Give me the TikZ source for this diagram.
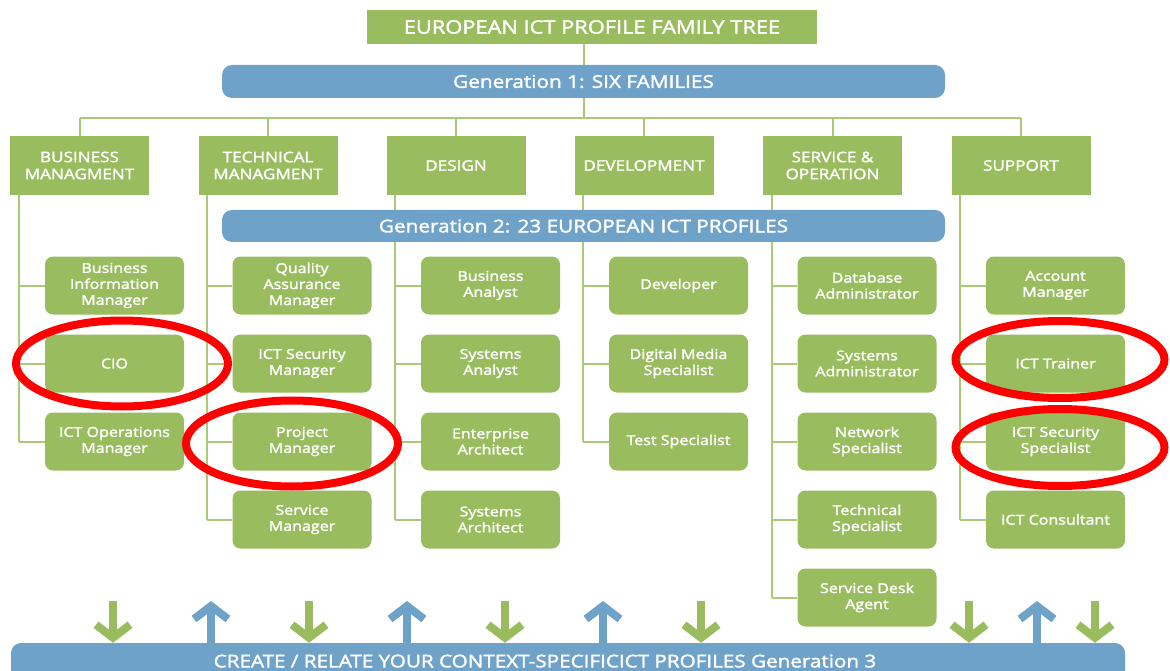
\documentclass[tikz,border=0pt]{standalone}
\usepackage{fontspec}
\setmainfont{Open Sans}[FakeStretch=1.18, FakeBold=2]
\usetikzlibrary{arrows.meta,calc,backgrounds}
\definecolor{gr}{RGB}{152,188,94}
\definecolor{lg}{RGB}{170,202,120}
\definecolor{bl}{RGB}{110,162,200}
\definecolor{rd}{RGB}{255,0,0}
\begin{document}
\begin{tikzpicture}[x=1pt,y=-1pt,
  titleb/.style={fill=gr, text=white, minimum width=450pt, minimum height=34pt, inner sep=0pt, font=\fontsize{18.5}{20}\selectfont},
  genb/.style={fill=bl, rounded corners=10pt, text=white, minimum width=723pt, minimum height=33pt, inner sep=0pt, font=\fontsize{17.6}{20}\selectfont},
  famb/.style={fill=gr, text=white, minimum width=139pt, minimum height=59pt, inner sep=0pt, align=center, font=\fontsize{14.5}{17}\selectfont},
  roleb/.style={fill=gr, rounded corners=8pt, text=white, minimum width=139pt, minimum height=58pt, inner sep=0pt, align=center, font=\fontsize{13.6}{16}\selectfont},
  conn/.style={draw=lg, line width=2pt},
  garr/.style={draw=gr, line width=8pt, -{Straight Barb[length=13pt, width=34pt]}},
  barr/.style={draw=bl, line width=8pt, -{Straight Barb[length=13pt, width=34pt]}},
  ring/.style={draw=rd, line width=8pt}
]
\clip (0,0) rectangle (1170,671);
% title and generation bars
\node[titleb] (t) at (592,27) {EUROPEAN ICT PROFILE FAMILY TREE};
\node[genb] (g1) at (583.5,81.5) {Generation 1: SIX FAMILIES};
\node[genb, minimum height=32pt] (g2) at (583.5,226) {Generation 2: 23 EUROPEAN ICT PROFILES};
% families
\node[famb] (f1) at (79.5,165.5) {BUSINESS\\MANAGMENT};
\node[famb] (f2) at (268,165.5) {TECHNICAL\\MANAGMENT};
\node[famb] (f3) at (456,165.5) {DESIGN};
\node[famb] (f4) at (644,165.5) {DEVELOPMENT};
\node[famb] (f5) at (832.5,165.5) {SERVICE \&\\OPERATION};
\node[famb] (f6) at (1021,165.5) {SUPPORT};
% roles column 1
\node[roleb] (r11) at (114.5,285.5) {Business\\Information\\Manager};
\node[roleb] (r12) at (114.5,363.5) {CIO};
\node[roleb] (r13) at (114.5,441.5) {ICT Operations\\Manager};
% column 2
\node[roleb] (r21) at (302,285.5) {Quality\\Assurance\\Manager};
\node[roleb] (r22) at (302,363.5) {ICT Security\\Manager};
\node[roleb] (r23) at (302,441.5) {Project\\Manager};
\node[roleb] (r24) at (302,519.5) {Service\\Manager};
% column 3
\node[roleb] (r31) at (490.5,285.5) {Business\\Analyst};
\node[roleb] (r32) at (490.5,363.5) {Systems\\Analyst};
\node[roleb] (r33) at (490.5,441.5) {Enterprise\\Architect};
\node[roleb] (r34) at (490.5,519.5) {Systems\\Architect};
% column 4
\node[roleb] (r41) at (678.5,285.5) {Developer};
\node[roleb] (r42) at (678.5,363.5) {Digital Media\\Specialist};
\node[roleb] (r43) at (678.5,441.5) {Test Specialist};
% column 5
\node[roleb] (r51) at (867,285.5) {Database\\Administrator};
\node[roleb] (r52) at (867,363.5) {Systems\\Administrator};
\node[roleb] (r53) at (867,441.5) {Network\\Specialist};
\node[roleb] (r54) at (867,519.5) {Technical\\Specialist};
\node[roleb] (r55) at (867,597.5) {Service Desk\\Agent};
% column 6
\node[roleb] (r61) at (1055.5,285.5) {Account\\Manager};
\node[roleb] (r62) at (1055.5,363.5) {ICT Trainer};
\node[roleb] (r63) at (1055.5,441.5) {ICT Security\\Specialist};
\node[roleb] (r64) at (1055.5,519.5) {ICT Consultant};
% bottom bar
\node[fill=bl, rounded corners=10pt, minimum width=1114pt, minimum height=56pt, inner sep=0pt] (bb) at (568,671) {};
\node[text=white, inner sep=0pt, font=\fontsize{17.5}{20}\selectfont] (bbt) at (545,661) {CREATE / RELATE YOUR CONTEXT-SPECIFICICT PROFILES Generation 3};
% connectors
\begin{pgfonlayer}{background}
\coordinate (hy) at (0,118);
\draw[conn] (g1.north) -- (g1.north |- t.south);
\draw[conn] (g1.south) -- (g1.south |- hy);
\draw[conn] (f1.north |- hy) -- (f6.north |- hy);
\foreach \f in {f1,f2,f3,f4,f5,f6} { \draw[conn] (\f.north) -- (\f.north |- hy); }
\foreach \c/\last/\rows in {1/3/{1,2,3},2/4/{1,2,3,4},3/4/{1,2,3,4},4/3/{1,2,3},5/5/{1,2,3,4,5},6/4/{1,2,3,4}} {
  \coordinate (d\c) at ($(f\c.south west)+(9,0)$);
  \draw[conn] (d\c) -- (d\c |- r\c\last.west);
  \foreach \r in \rows { \draw[conn] (d\c |- r\c\r.west) -- (r\c\r.west); }
}
\end{pgfonlayer}
% arrows
\foreach \i/\x in {1/113,2/309,3/505,4/701,5/969,6/1095} {
  \coordinate (ga\i) at (\x,601);
  \draw[garr] (ga\i) -- (ga\i |- bb.north);
}
\foreach \i/\x in {1/211,2/407,3/603,4/1037} {
  \coordinate (ba\i) at (\x,601);
  \draw[barr] (ba\i |- bb.north) -- (ba\i);
}
% red rings
\draw[ring] (122,363.5) ellipse [x radius=106pt, y radius=43pt];
\draw[ring] (292,443.5) ellipse [x radius=106pt, y radius=43pt];
\draw[ring] (1060,359.5) ellipse [x radius=104.5pt, y radius=38.5pt];
\draw[ring] (1060,447.5) ellipse [x radius=104.5pt, y radius=38.5pt];
\end{tikzpicture}
\end{document}
